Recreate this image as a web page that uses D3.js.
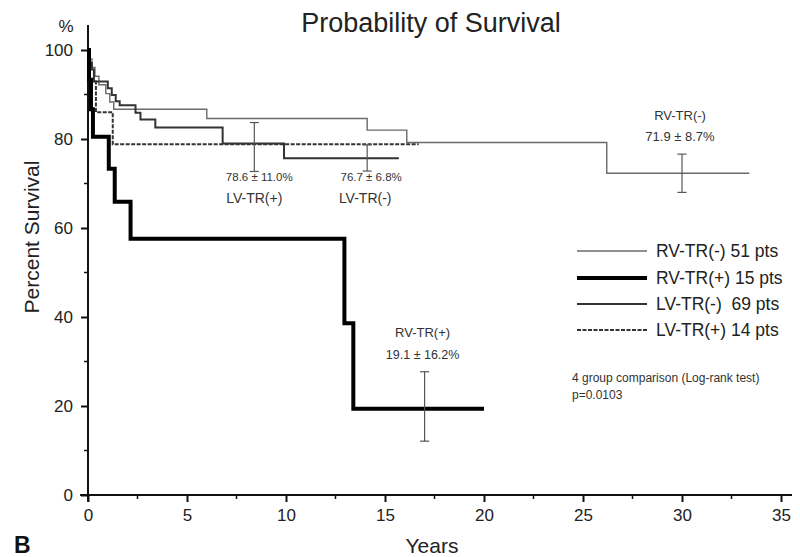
<!DOCTYPE html>
<html>
<head>
<meta charset="utf-8">
<script src="https://cdn.jsdelivr.net/npm/d3@7"></script>
<style>
  body { margin: 0; background: #fff; }
  svg { font-family: "Liberation Sans", Arial, sans-serif; }
  .tick text { font-size: 17px; fill: #222; }
</style>
</head>
<body>
<div id="chart"></div>
<script>
"use strict"

// Kaplan-Meier steps: [years], [% survival]
const rvNegTimes = [0, 0.1, 0.2, 0.35, 0.55, 0.9, 1.1, 1.3, 6.0, 14.1, 16.1, 26.2, 33.4];
const rvNegSurv  = [100, 98, 96.1, 94.1, 92.2, 90.2, 88.3, 86.7, 84.6, 82.0, 79.2, 72.3, 72.3];

const rvPosTimes = [0, 0.05, 0.15, 0.25, 1.05, 1.35, 2.15, 12.95, 13.4, 20];
const rvPosSurv  = [100, 93.3, 86.7, 80.5, 73.3, 65.9, 57.6, 38.6, 19.4, 19.4];

const lvNegTimes = [0, 0.1, 0.2, 0.3, 1.0, 1.2, 1.4, 1.6, 2.4, 2.65, 3.4, 6.8, 9.9, 15.7];
const lvNegSurv  = [100, 97.1, 95.6, 92.9, 91.4, 89.9, 88.5, 87.6, 85.9, 84.4, 82.6, 79.0, 75.7, 75.7];

const lvPosTimes = [0, 0.1, 0.4, 1.25, 16.7];
const lvPosSurv  = [100, 92.9, 86.0, 78.8, 78.8];

// error bars at end of follow-up
const errYears = [8.4, 14.1, 17.0, 30.0];
const errLow   = [72.7, 72.8, 12.1, 68.0];
const errHigh  = [83.7, 78.7, 27.7, 76.6];

const legendLabels = ["RV-TR(-) 51 pts", "RV-TR(+) 15 pts", "LV-TR(-)  69 pts", "LV-TR(+) 14 pts"];

const xTicks = [0, 5, 10, 15, 20, 25, 30, 35];
const yTicks = [0, 20, 40, 60, 80, 100];

const width = 800;
const height = 557;

const svg = d3.select("#chart").append("svg")
    .attr("width", width)
    .attr("height", height);

const x = d3.scaleLinear().domain([0, 35]).range([88, 781]);
const y = d3.scaleLinear().domain([0, 100]).range([495, 50]);

// Axes
const xAxis = d3.axisBottom(x).tickValues(xTicks).tickSize(7).tickSizeOuter(0).tickPadding(7);
const yAxis = d3.axisLeft(y).tickValues(yTicks).tickSize(7).tickSizeOuter(0).tickPadding(8);

const gx = svg.append("g")
    .attr("transform", `translate(0, ${y(0)})`)
    .call(xAxis);
gx.select(".domain").remove();
gx.selectAll(".tick line").attr("stroke", "#111").attr("stroke-width", 2);

const gy = svg.append("g")
    .attr("transform", `translate(${x(0)}, 0)`)
    .call(yAxis);
gy.select(".domain").remove();
gy.selectAll(".tick line").attr("stroke", "#111").attr("stroke-width", 2);

// minor ticks
svg.append("g").selectAll("line")
    .data(d3.range(2.5, 35, 5))
    .join("line")
    .attr("x1", d => x(d)).attr("x2", d => x(d))
    .attr("y1", y(0)).attr("y2", y(0) + 4)
    .attr("stroke", "#111").attr("stroke-width", 1.5);
svg.append("g").selectAll("line")
    .data(d3.range(10, 100, 20))
    .join("line")
    .attr("x1", x(0) - 4).attr("x2", x(0))
    .attr("y1", d => y(d)).attr("y2", d => y(d))
    .attr("stroke", "#111").attr("stroke-width", 1.5);

// axis lines
svg.append("line")
    .attr("x1", x(-0.4)).attr("x2", 792)
    .attr("y1", y(0)).attr("y2", y(0))
    .attr("stroke", "#111").attr("stroke-width", 2);
svg.append("line")
    .attr("x1", x(0)).attr("x2", x(0))
    .attr("y1", 25).attr("y2", y(-1.5))
    .attr("stroke", "#111").attr("stroke-width", 2);

// Curves
const line = d3.line()
    .x(d => x(d[0]))
    .y(d => y(d[1]))
    .curve(d3.curveStepAfter);

const series = [
    {times: rvNegTimes, surv: rvNegSurv, color: "#6a6a6a", w: 1.4, dash: null},
    {times: lvNegTimes, surv: lvNegSurv, color: "#333", w: 2, dash: null},
    {times: lvPosTimes, surv: lvPosSurv, color: "#333", w: 2, dash: "4,1.5"},
    {times: rvPosTimes, surv: rvPosSurv, color: "#000", w: 4, dash: null}
];

svg.append("g").selectAll("path")
    .data(series)
    .join("path")
    .attr("d", s => line(s.times.map((t, i) => [t, s.surv[i]])))
    .attr("fill", "none")
    .attr("stroke", s => s.color)
    .attr("stroke-width", s => s.w)
    .attr("stroke-dasharray", s => s.dash);

// Error bars
const eb = svg.append("g").attr("stroke", "#555").attr("stroke-width", 1.2);
errYears.forEach((t, i) => {
    eb.append("line")
        .attr("x1", x(t)).attr("x2", x(t))
        .attr("y1", y(errLow[i])).attr("y2", y(errHigh[i]));
    [errLow[i], errHigh[i]].forEach(v => {
        eb.append("line")
            .attr("x1", x(t) - 4.5).attr("x2", x(t) + 4.5)
            .attr("y1", y(v)).attr("y2", y(v));
    });
});

// Annotations
const notes = [
    {t: 8.65, v: 70.6, text: "78.6 \u00b1 11.0%", size: 11.5},
    {t: 8.4, v: 65.6, text: "LV-TR(+)", size: 14},
    {t: 14.3, v: 70.6, text: "76.7 \u00b1 6.8%", size: 11.5},
    {t: 14.0, v: 65.6, text: "LV-TR(-)", size: 14},
    {t: 29.9, v: 84.3, text: "RV-TR(-)", size: 13},
    {t: 29.9, v: 79.6, text: "71.9 \u00b1 8.7%", size: 13},
    {t: 16.9, v: 35.4, text: "RV-TR(+)", size: 13},
    {t: 16.9, v: 30.6, text: "19.1 \u00b1 16.2%", size: 12.5}
];
svg.append("g").selectAll("text")
    .data(notes)
    .join("text")
    .attr("x", d => x(d.t))
    .attr("y", d => y(d.v))
    .attr("text-anchor", "middle")
    .attr("font-size", d => d.size)
    .attr("fill", "#333")
    .text(d => d.text);

// Legend
const legendY = [251, 278, 304, 330];
const legendStyle = [series[0], series[3], series[1], series[2]];
const lg = svg.append("g");
legendStyle.forEach((s, i) => {
    lg.append("line")
        .attr("x1", 577).attr("x2", 647)
        .attr("y1", legendY[i]).attr("y2", legendY[i])
        .attr("stroke", s.color)
        .attr("stroke-width", s.w)
        .attr("stroke-dasharray", s.dash);
    lg.append("text")
        .attr("x", 656)
        .attr("y", legendY[i] + 6)
        .attr("font-size", 17.5)
        .attr("fill", "#222")
        .attr("xml:space", "preserve")
        .text(legendLabels[i]);
});
lg.append("text")
    .attr("x", 572).attr("y", 382)
    .attr("font-size", 12)
    .attr("fill", "#333")
    .text("4 group comparison (Log-rank test)");
lg.append("text")
    .attr("x", 572).attr("y", 399)
    .attr("font-size", 12)
    .attr("fill", "#333")
    .text("p=0.0103");

// Titles and labels
svg.append("text")
    .attr("x", 431).attr("y", 32)
    .attr("text-anchor", "middle")
    .attr("font-size", 27)
    .attr("fill", "#222")
    .text("Probability of Survival");

svg.append("text")
    .attr("x", 66).attr("y", 32)
    .attr("text-anchor", "middle")
    .attr("font-size", 17)
    .attr("fill", "#222")
    .text("%");

svg.append("text")
    .attr("transform", "translate(39, 237) rotate(-90)")
    .attr("text-anchor", "middle")
    .attr("font-size", 21)
    .attr("fill", "#222")
    .text("Percent Survival");

svg.append("text")
    .attr("x", 432).attr("y", 553)
    .attr("text-anchor", "middle")
    .attr("font-size", 21)
    .attr("fill", "#222")
    .text("Years");

svg.append("text")
    .attr("x", 14).attr("y", 553)
    .attr("font-size", 23)
    .attr("font-weight", "bold")
    .attr("fill", "#111")
    .text("B");
</script>
</body>
</html>
